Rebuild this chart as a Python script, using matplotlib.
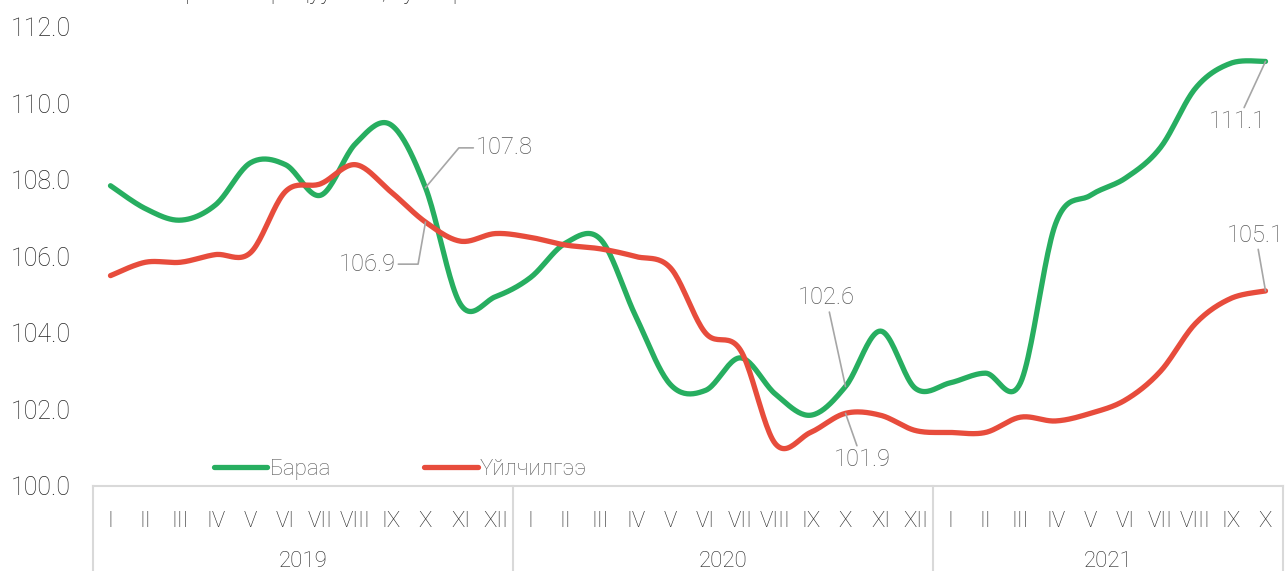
import numpy as np
import matplotlib.pyplot as plt

plt.rcParams['font.family'] = ['Roboto', 'DejaVu Sans']
plt.rcParams['font.weight'] = 'light'

months_2019 = ['I', 'II', 'III', 'IV', 'V', 'VI', 'VII', 'VIII', 'IX', 'X', 'XI', 'XII']
months_2020 = months_2019
months_2021 = months_2019[:10]
years = ['2019', '2020', '2021']

goods = [107.85, 107.25, 106.95, 107.35, 108.45, 108.4, 107.6, 108.95, 109.45, 107.8,
         104.75, 104.95, 105.45, 106.35, 106.45, 104.45, 102.65, 102.5, 103.35, 102.4,
         101.85, 102.6, 104.05, 102.55, 102.7, 102.95, 102.7, 106.85, 107.6, 108.05,
         108.85, 110.4, 111.05, 111.1]
services = [105.5, 105.85, 105.85, 106.05, 106.1, 107.7, 107.9, 108.4, 107.7, 106.9,
            106.4, 106.6, 106.5, 106.3, 106.2, 106.0, 105.7, 104.0, 103.55, 101.1,
            101.4, 101.9, 101.85, 101.45, 101.4, 101.4, 101.8, 101.7, 101.9, 102.25,
            103.0, 104.25, 104.9, 105.1]

labels = months_2019 + months_2020 + months_2021
x = np.arange(len(labels))


def smooth(xs, ys, n=24):
    # catmull-rom style bezier, like the smoothed line option in excel
    xs = np.asarray(xs, float)
    ys = np.asarray(ys, float)
    px = np.concatenate([[xs[0]], xs, [xs[-1]]])
    py = np.concatenate([[ys[0]], ys, [ys[-1]]])
    t = np.linspace(0, 1, n)[:, None]
    out_x, out_y = [], []
    for i in range(1, len(px) - 2):
        p0 = np.array([px[i], py[i]])
        p3 = np.array([px[i + 1], py[i + 1]])
        p1 = p0 + (np.array([px[i + 1], py[i + 1]]) - np.array([px[i - 1], py[i - 1]])) / 6
        p2 = p3 - (np.array([px[i + 2], py[i + 2]]) - np.array([px[i], py[i]])) / 6
        b = ((1 - t) ** 3) * p0 + 3 * ((1 - t) ** 2) * t * p1 + 3 * (1 - t) * t ** 2 * p2 + t ** 3 * p3
        out_x.append(b[:, 0])
        out_y.append(b[:, 1])
    return np.concatenate(out_x), np.concatenate(out_y)


green = '#27ae60'
red = '#e74c3c'
grey_txt = '#595959'
lead = '#a6a6a6'
box = '#d9d9d9'

fig = plt.figure(figsize=(12.85, 5.71), dpi=100)
ax = fig.add_axes([93 / 1285, 85 / 571, 1190 / 1285, 459 / 571])

gx, gy = smooth(x, goods)
sx, sy = smooth(x, services)
ax.plot(gx, gy, color=green, lw=3.8, solid_capstyle='round', label='Бараа', zorder=3)
ax.plot(sx, sy, color=red, lw=3.8, solid_capstyle='round', label='Үйлчилгээ', zorder=3)

ax.set_xlim(-0.5, len(labels) - 0.5)
ax.set_ylim(100, 112)
ax.set_yticks(np.arange(100, 112.1, 2))
ax.set_yticklabels([f'{v:.1f}' for v in np.arange(100, 112.1, 2)])
ax.tick_params(axis='y', length=0, pad=16, labelsize=18, labelcolor='#262626')
ax.set_xticks(x)
ax.set_xticklabels(labels)
ax.tick_params(axis='x', length=0, pad=18, labelsize=16, labelcolor='#262626')

for s in ['left', 'right', 'top']:
    ax.spines[s].set_visible(False)
ax.spines['bottom'].set_color(box)
ax.spines['bottom'].set_linewidth(1.5)

# multi level category box
tr = ax.get_xaxis_transform()
for xv in [-0.5, 11.5, 23.5, len(labels) - 0.5]:
    ax.plot([xv, xv], [0, -0.2], transform=tr, color=box, lw=1.5, clip_on=False)
for yr, xc in zip(years, [5.5, 17.5, 28.5]):
    ax.text(xc, -0.165, yr, transform=tr, ha='center', va='center', fontsize=16, color='#262626')


# data labels
def note(i, val, tx, ty, txt, cs):
    ax.annotate(txt, xy=(i, val), xytext=(tx, ty), fontsize=17, color=grey_txt,
                ha='center', va='center',
                arrowprops=dict(arrowstyle='-', color=lead, lw=1.2, shrinkA=0, shrinkB=0,
                                connectionstyle=cs))


note(9, goods[9], 11.26, 108.84, '107.8', 'angle,angleA=0,angleB=50,rad=0')
note(9, services[9], 7.33, 105.8, '106.9', 'angle,angleA=0,angleB=80,rad=0')
note(21, goods[21], 20.45, 104.92, '102.6', 'arc3,rad=0')
note(21, services[21], 21.47, 100.68, '101.9', 'arc3,rad=0')
note(33, goods[33], 32.2, 109.52, '111.1', 'arc3,rad=0')
note(33, services[33], 32.72, 106.56, '105.1', 'arc3,rad=0')

leg = ax.legend(loc='lower left', bbox_to_anchor=(0.085, -0.03), ncol=2, frameon=False,
                fontsize=16, handlelength=2.4, handletextpad=0.1, columnspacing=4.2,
                labelcolor=grey_txt)

fig.text(8 / 1285, 1 + 1 / 571, 'Өмнөх оны мөн үетэй харьцуулсан, хувиар', fontsize=17,
         color='#262626', ha='left', va='baseline')

fig.savefig('out.png', dpi=100)
